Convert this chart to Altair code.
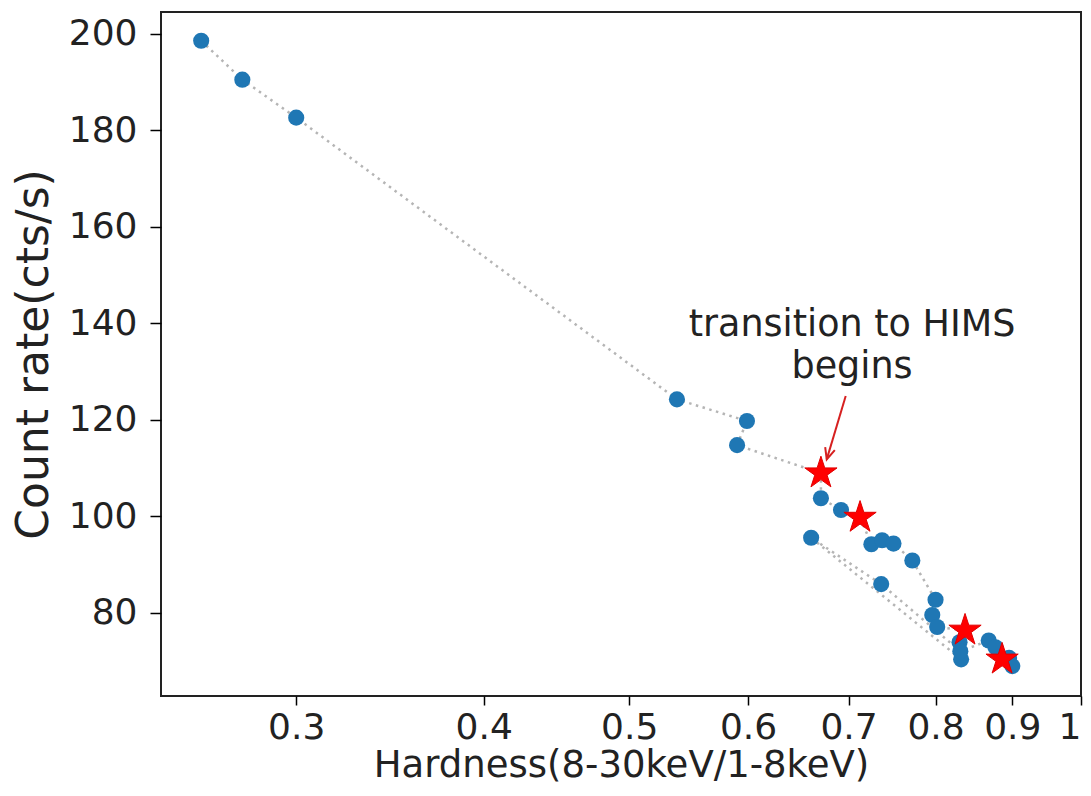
import altair as alt
import pandas as pd

# Time-ordered track in the hardness-intensity diagram
hardness = [0.2593, 0.2762, 0.300, 0.538, 0.599, 0.590, 0.671, 0.671, 0.692, 0.7125,
            0.725, 0.737, 0.750, 0.772, 0.800, 0.796, 0.802, 0.837, 0.830, 0.832,
            0.661, 0.736, 0.831, 0.868, 0.877, 0.8955, 0.886, 0.900]
rate = [198.55, 190.47, 182.6, 124.2, 119.7, 114.7, 108.9, 103.7, 101.25, 99.7,
        94.15, 95.0, 94.3, 90.8, 82.65, 79.5, 77.0, 76.3, 73.85, 70.3,
        95.5, 85.9, 71.97, 74.2, 72.8, 70.6, 70.3, 68.9]
is_star = [0, 0, 0, 0, 0, 0, 1, 0, 0, 1,
           0, 0, 0, 0, 0, 0, 0, 1, 0, 0,
           0, 0, 0, 0, 0, 0, 1, 0]

x_ticks = [0.3, 0.4, 0.5, 0.6, 0.7, 0.8, 0.9, 1.0]
y_ticks = [80, 100, 120, 140, 160, 180, 200]
x_domain = [0.2438, 1.0]
y_domain = [62.7, 204.5]

annot_text = ["transition to HIMS", "begins"]
annot_pos = {"x": 0.7038, "y": 139.7}
arrow = {"x": 0.697, "y": 124.9, "x2": 0.677, "y2": 111.75}

STAR_PATH = ("M0,-1 L0.2245,-0.309 L0.9511,-0.309 L0.3633,0.118 L0.5878,0.809 "
             "L0,0.382 L-0.5878,0.809 L-0.3633,0.118 L-0.9511,-0.309 L-0.2245,-0.309 Z")
ARROW_HEAD = "M-0.45,-1 L0,0 L0.45,-1"

df = pd.DataFrame({"h": hardness, "r": rate, "star": is_star, "order": list(range(len(rate)))})

FONT = "DejaVu Sans"

xs = alt.Scale(type="log", domain=x_domain, nice=False)
ys = alt.Scale(domain=y_domain, nice=False, zero=False)

xenc = alt.X("h:Q", scale=xs, axis=alt.Axis(
    values=x_ticks, title="Hardness(8-30keV/1-8keV)",
    labelExpr="datum.value == 1 ? '1' : format(datum.value, '.1f')",
    tickSize=9, labelPadding=5, labelFontSize=36, titleFontSize=37,
    titlePadding=2, grid=False, domain=False, tickColor="black",
    labelColor="#222", titleColor="#222", labelFont=FONT, titleFont=FONT,
    labelFontWeight="normal", titleFontWeight="normal", tickWidth=1.5))
yenc = alt.Y("r:Q", scale=ys, axis=alt.Axis(
    values=y_ticks, title="Count rate(cts/s)",
    tickSize=11, labelPadding=13, labelFontSize=36, titleFontSize=44,
    titlePadding=12, grid=False, domain=False, tickColor="black",
    labelColor="#222", titleColor="#222", labelFont=FONT, titleFont=FONT,
    labelFontWeight="normal", titleFontWeight="normal", tickWidth=1.5))

line = alt.Chart(df).mark_line(color="#b5b5b5", strokeWidth=2.5, strokeDash=[2.5, 4.5]).encode(
    x=xenc, y=yenc, order="order:Q")

dots = alt.Chart(df).transform_filter("datum.star == 0").mark_circle(
    size=260, color="#1f77b4", opacity=1).encode(x="h:Q", y="r:Q")

stars = alt.Chart(df).transform_filter("datum.star == 1").mark_point(
    shape=STAR_PATH, size=1150, filled=True, color="red", stroke="#e00000",
    strokeWidth=1, opacity=1).encode(x="h:Q", y="r:Q")

adf = pd.DataFrame([arrow])
arrow_line = alt.Chart(adf).mark_rule(color="#d62020", strokeWidth=2).encode(
    x="x:Q", y="y:Q", x2="x2:Q", y2="y2:Q")
arrow_head = alt.Chart(adf).mark_point(
    shape=ARROW_HEAD, size=500, filled=False, color="#d62020",
    strokeWidth=2, angle=17, opacity=1).encode(x="x2:Q", y="y2:Q")

tdf = pd.DataFrame([{"x": annot_pos["x"], "y": annot_pos["y"], "t": annot_text}])
text = alt.Chart(tdf).mark_text(fontSize=36.5, font=FONT, color="#222", align="center",
                                baseline="middle", lineHeight=42).encode(
    x="x:Q", y="y:Q", text="t")

chart = alt.layer(line, dots, stars, arrow_line, arrow_head, text).properties(
    width=920, height=684,
    autosize=alt.AutoSizeParams(type="none"),
    padding={"left": 153, "top": 4, "right": 2, "bottom": 92},
    background="white",
).configure_view(stroke="#222", strokeWidth=2)

chart.save("out.html", embed_options={"renderer": "svg", "actions": False})
